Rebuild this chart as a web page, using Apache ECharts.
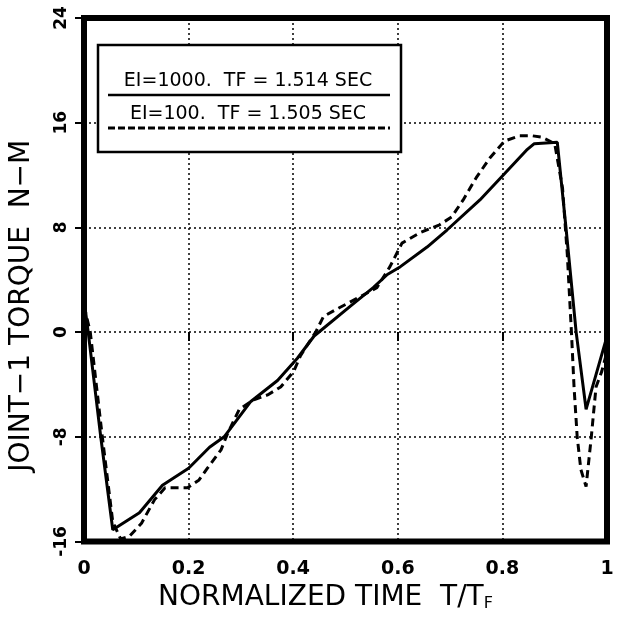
<!DOCTYPE html>
<html><head><meta charset="utf-8">
<script src="https://cdn.jsdelivr.net/npm/echarts@6/dist/echarts.min.js"></script>
<style>html,body{margin:0;padding:0;background:#fff}#c{width:619px;height:626px}</style>
</head><body><div id="c"></div>
<script>
const FONT = '"DejaVu Sans",sans-serif';
const xTicks = [0, 0.2, 0.4, 0.6, 0.8, 1];
const yTicks = [-16, -8, 0, 8, 16, 24];
const seriesNames = ['EI=1000.  TF = 1.514 SEC', 'EI=100.  TF = 1.505 SEC'];
const solidX = [0, 0.008, 0.032, 0.055, 0.106, 0.15, 0.2, 0.24, 0.268, 0.319, 0.37, 0.408, 0.44, 0.51, 0.553, 0.58, 0.605, 0.656, 0.694, 0.757, 0.804, 0.846, 0.861, 0.905, 0.922, 0.941, 0.96, 0.998, 1];
const solidY = [2.5, 0, -8, -15.1, -13.8, -11.7, -10.4, -8.8, -8.0, -5.3, -3.7, -2.0, -0.3, 2.0, 3.4, 4.4, 5.0, 6.5, 7.8, 10.1, 12.1, 13.9, 14.4, 14.5, 7.8, 0, -5.9, -0.6, -0.3];
const dashX = [0, 0.012, 0.035, 0.055, 0.07, 0.087, 0.11, 0.135, 0.155, 0.177, 0.198, 0.22, 0.236, 0.262, 0.275, 0.297, 0.323, 0.351, 0.376, 0.401, 0.414, 0.443, 0.458, 0.49, 0.528, 0.56, 0.585, 0.608, 0.643, 0.68, 0.703, 0.725, 0.75, 0.776, 0.804, 0.833, 0.857, 0.875, 0.9, 0.915, 0.924, 0.932, 0.937, 0.943, 0.95, 0.96, 0.97, 0.979, 0.99, 1];
const dashY = [2, 0, -8, -14.5, -15.8, -15.6, -14.6, -12.8, -11.9, -11.9, -11.9, -11.3, -10.4, -9.0, -7.7, -5.9, -5.2, -4.8, -4.2, -3.0, -1.8, 0, 1.2, 1.9, 2.7, 3.4, 5.0, 6.8, 7.6, 8.2, 8.8, 10.1, 11.8, 13.3, 14.6, 15.0, 15.0, 14.9, 14.4, 11, 6, 0, -4.2, -8, -10.5, -11.8, -8, -4.2, -3.0, -1.5];

const pair = (xs, ys) => xs.map((x, i) => [x, ys[i]]);
const chart = echarts.init(document.getElementById('c'), null, {renderer: 'canvas'});
chart.setOption({
  animation: false,
  backgroundColor: '#fff',
  grid: {left: 83, right: 12, top: 18, bottom: 84.5, show: true, borderColor: '#000', borderWidth: 6, backgroundColor: 'transparent'},
  xAxis: {
    type: 'value', min: xTicks[0], max: xTicks[xTicks.length - 1], interval: 0.2,
    axisLine: {show: false},
    axisTick: {show: true, length: 9, lineStyle: {color: '#000', width: 2}},
    splitLine: {show: true, lineStyle: {color: '#000', width: 1.5, type: [2, 3]}},
    axisLabel: {color: '#000', fontFamily: FONT, fontWeight: 'bold', fontSize: 19, margin: 18,
      formatter: v => String(Math.round(v * 10) / 10)},
    name: '{a|NORMALIZED TIME  T/T}{s|F}', nameLocation: 'middle', nameGap: 38,
    nameTextStyle: {rich: {a: {fontFamily: FONT, fontSize: 28, color: '#000'}, s: {fontFamily: FONT, fontSize: 16, color: '#000', verticalAlign: 'bottom', padding: [13, 0, 0, 0]}}, padding: [0, 40, 0, 0]}
  },
  yAxis: {
    type: 'value', min: yTicks[0], max: yTicks[yTicks.length - 1], interval: 8,
    axisLine: {show: false},
    axisTick: {show: true, length: 9, lineStyle: {color: '#000', width: 2}},
    splitLine: {show: true, lineStyle: {color: '#000', width: 1.5, type: [2, 3]}},
    axisLabel: {color: '#000', fontFamily: FONT, fontWeight: 'bold', fontSize: 17, rotate: 90, margin: 14},
    name: 'JOINT\u22121 TORQUE  N\u2212M', nameLocation: 'middle', nameGap: 48, nameRotate: 90,
    nameTextStyle: {fontFamily: FONT, fontSize: 28, color: '#000', padding: [0, 0, 0, -52]}
  },
  series: [
    {name: seriesNames[0], type: 'line', data: pair(solidX, solidY), showSymbol: false,
      lineStyle: {color: '#000', width: 3}, z: 3},
    {name: seriesNames[1], type: 'line', data: pair(dashX, dashY), showSymbol: false,
      lineStyle: {color: '#000', width: 3, type: [8, 5]}, z: 2}
  ],
  graphic: [
    {type: 'rect', shape: {x: 98, y: 45, width: 303, height: 107}, style: {fill: '#fff', stroke: '#000', lineWidth: 2.5}, z: 10},
    {type: 'text', x: 248, y: 81, style: {text: seriesNames[0], font: '19px ' + FONT, fill: '#000', align: 'center', verticalAlign: 'middle'}, z: 11},
    {type: 'line', shape: {x1: 108, y1: 95, x2: 390, y2: 95}, style: {stroke: '#000', lineWidth: 2.5}, z: 11},
    {type: 'text', x: 248, y: 114, style: {text: seriesNames[1], font: '19px ' + FONT, fill: '#000', align: 'center', verticalAlign: 'middle'}, z: 11},
    {type: 'line', shape: {x1: 108, y1: 128, x2: 390, y2: 128}, style: {stroke: '#000', lineWidth: 3, lineDash: [7, 3]}, z: 11}
  ]
});
</script></body></html>
